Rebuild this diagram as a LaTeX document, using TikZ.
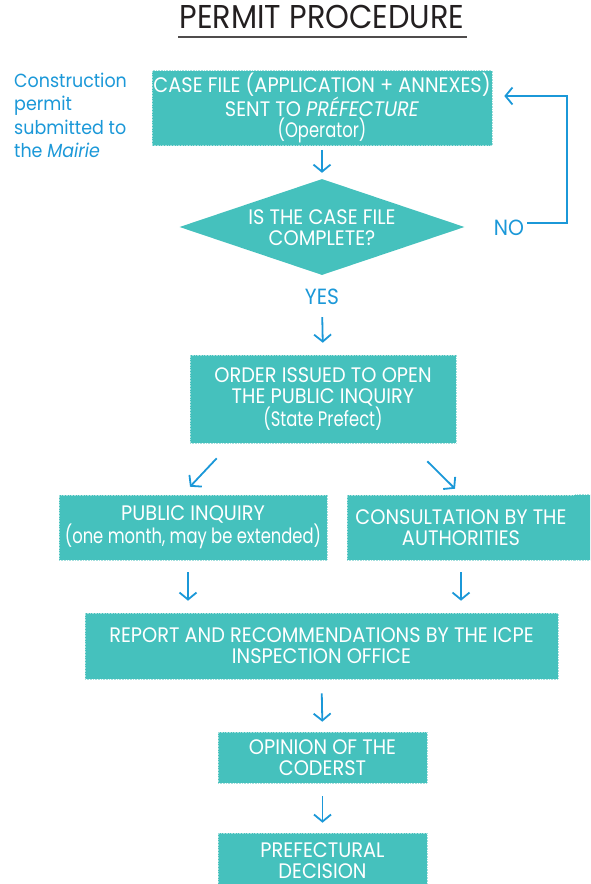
\documentclass[tikz,border=0pt]{standalone}
\usepackage{fontspec}
\setmainfont{Poppins}[FakeStretch=0.92]
\newfontfamily\narrowfam{Poppins}[FakeStretch=0.78]
\usetikzlibrary{arrows.meta,shapes.geometric}
\definecolor{boxc}{HTML}{45C1BD}
\definecolor{boxedge}{HTML}{A5E0DE}
\definecolor{arrc}{HTML}{1B98D8}
\definecolor{ttlc}{HTML}{231F20}
\newcommand{\sub}[1]{{\narrowfam #1}}
\tikzset{
  boxtext/.style={text=white, align=center, font=\fontsize{21}{21}\selectfont},
  box/.style={fill=boxc, draw=boxedge, densely dotted, line width=0.6pt, inner sep=0pt, boxtext},
  flow/.style={draw=arrc, line width=1.8pt, solid, -{Straight Barb[length=7pt,width=17pt]}},
  lbl/.style={text=arrc, font=\fontsize{19}{23.3}\selectfont, inner sep=0pt},
  yn/.style={text=arrc, font=\fontsize{22}{24}\selectfont, inner sep=0pt}
}
\begin{document}
\begin{tikzpicture}[x=1pt,y=-1pt]
\useasboundingbox (0,0) rectangle (590,884);
\clip (0,0) rectangle (590,884);
% title
\node[text=ttlc, font=\fontsize{33}{36}\selectfont, inner sep=0pt] (title) at (322,17) {PERMIT PROCEDURE};
\draw[ttlc!80, line width=1.3pt] (178,37) -- (467,37);
% left note
\node[lbl, align=left, anchor=north west] (note) at (14,73) {Construction\\permit\\submitted to\\the \textit{Mairie}};
% boxes
\node[box, minimum width=340pt, minimum height=75pt] (b1) at (322,108) {CASE FILE (APPLICATION + ANNEXES)\\SENT TO \textit{PRÉFECTURE}\\\sub{(Operator)}};
\node[diamond, fill=boxc, aspect=3, minimum width=285pt, minimum height=96pt, inner sep=0pt] (d) at (322,227) {};
\node[boxtext, inner sep=0pt] (dt) at (322,228) {IS THE CASE FILE\\COMPLETE?};
\node[yn] (no) at (509,228) {NO};
\node[yn] (yes) at (322,297) {YES};
\node[box, minimum width=266pt, minimum height=88pt] (b2) at (323,399) {ORDER ISSUED TO OPEN\\THE PUBLIC INQUIRY\\\sub{(State Prefect)}};
\node[box, minimum width=268pt, minimum height=65pt] (b3) at (193,527.5) {PUBLIC INQUIRY\\\sub{(one month, may be extended)}};
\node[box, minimum width=228pt, minimum height=65pt] (b4) at (461,527.5) {CONSULTATION BY THE\\AUTHORITIES};
\fill[boxc] ([xshift=-1pt]b4.north east) rectangle ([xshift=40pt]b4.south east);
\draw[boxedge, densely dotted, line width=0.6pt] (b4.north east) -- ++(40,0) (b4.south east) -- ++(40,0);
\node[box, minimum width=473pt, minimum height=66pt] (b5) at (321.5,646) {REPORT AND RECOMMENDATIONS BY THE ICPE\\INSPECTION OFFICE};
\node[box, minimum width=209pt, minimum height=51pt] (b6) at (322.5,757.5) {OPINION OF THE\\CODERST};
\node[box, minimum width=209pt, minimum height=56pt] (b7) at (322.5,861) {PREFECTURAL\\DECISION};
% connectors
\draw[flow, shorten <=4pt, shorten >=6pt] (b1.south) -- (d.north);
\coordinate (corner) at (567,96);
\draw[flow] ([xshift=3pt,yshift=5pt]no.east) -| (corner) -- ([xshift=12pt,yshift=12pt]b1.east);
\draw[flow, shorten <=12pt, shorten >=12pt] (yes.south) -- (b2.north);
\draw[flow] ([shift={(27,15)}]b2.south west) -- ([shift={(-3,-8)}]b3.north);
\draw[flow] ([shift={(-29,18)}]b2.south east) -- ([shift={(-6,-6)}]b4.north);
\draw[flow, shorten <=12pt, shorten >=12pt] ([xshift=-5pt]b3.south) -- ([xshift=-5pt]b3.south |- b5.north);
\draw[flow, shorten <=12pt, shorten >=12pt] (b4.south) -- (b4.south |- b5.north);
\draw[flow, shorten <=14pt, shorten >=10pt] (b5.south) -- (b6.north);
\draw[flow, shorten <=13pt, shorten >=10pt] (b6.south) -- (b7.north);
\end{tikzpicture}
\end{document}
